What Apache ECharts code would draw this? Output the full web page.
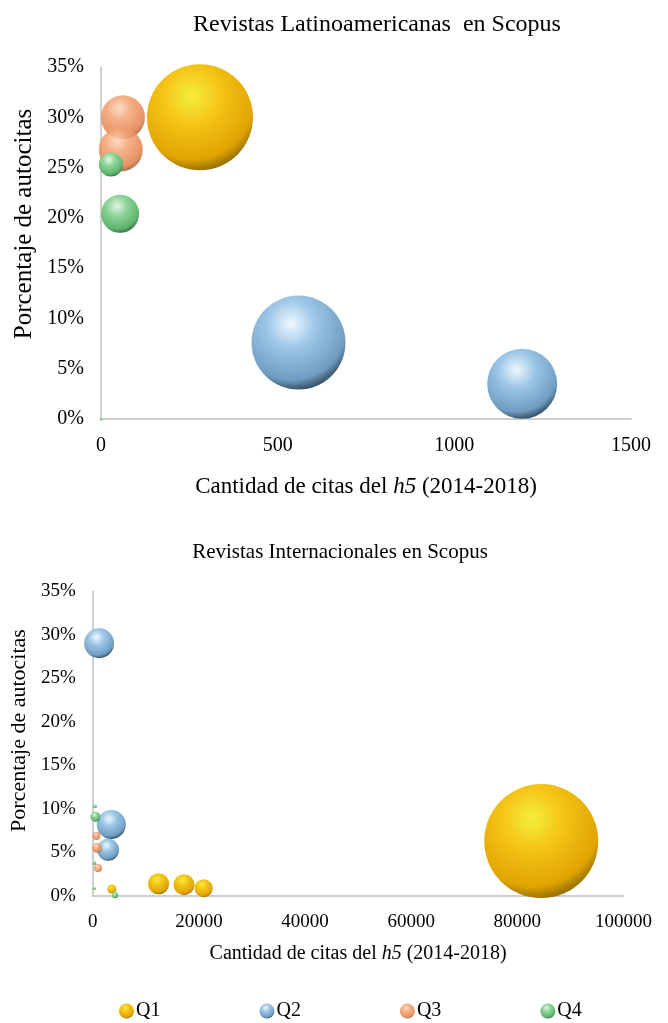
<!DOCTYPE html>
<html>
<head>
<meta charset="utf-8">
<script src="https://cdn.jsdelivr.net/npm/echarts@6/dist/echarts.min.js"></script>
<style>
html,body{margin:0;padding:0;background:#fff;}
#chart{width:668px;height:1023px;}
</style>
</head>
<body>
<div id="chart"></div>
<script>
// ---- Data: [citas h5, % autocitas, tamaño burbuja] ----
const latamQ1 = [[280, 30.0, 100]];
const latamQ2 = [[559, 7.6, 78.6], [1192, 3.5, 43.6]];
const latamQ3 = [[62, 30.0, 17.2], [56, 26.8, 17.2]];
const latamQ4 = [[28, 25.3, 5.1], [54, 20.4, 12.9], [0, 0, 0.08]];

const intQ1 = [[84500, 6.3, 100], [12400, 1.4, 3.4], [17200, 1.3, 3.4], [20900, 0.9, 2.5], [3600, 0.8, 0.62]];
const intQ2 = [[1200, 29.0, 6.9], [3500, 8.2, 6.5], [2900, 5.3, 3.7]];
const intQ3 = [[700, 6.9, 0.5], [800, 5.5, 0.77], [1000, 3.2, 0.5]];
const intQ4 = [[400, 10.3, 0.12], [500, 9.1, 0.77], [300, 3.8, 0.12], [300, 0.9, 0.07], [4200, 0.1, 0.28]];

const categories = ['Q1', 'Q2', 'Q3', 'Q4'];
const titles = ['Revistas Latinoamericanas  en Scopus', 'Revistas Internacionales en Scopus'];
const xName = 'Cantidad de citas del {i|h5} (2014-2018)';
const yName = 'Porcentaje de autocitas';

const FONT = '"Liberation Serif", "Times New Roman", serif';

function sphere(c0, c1, c2, c3) {
  return {
    type: 'radial', x: 0.42, y: 0.3, r: 0.75,
    colorStops: [
      { offset: 0, color: c0 },
      { offset: 0.35, color: c1 },
      { offset: 0.8, color: c2 },
      { offset: 1, color: c3 }
    ]
  };
}
const palette = {
  Q1: sphere('#f3ef3c', '#f5c518', '#e0a400', '#7a5c00'),
  Q2: sphere('#eef8ff', '#9cc6e6', '#6f9cc0', '#1f3444'),
  Q3: sphere('#fbd7bd', '#f3a273', '#e0804a', '#8a4a26'),
  Q4: sphere('#e4f7e4', '#8fd49a', '#5cb36b', '#276232')
};

function series(name, data, idx, k) {
  return {
    name: name, type: 'scatter', xAxisIndex: idx, yAxisIndex: idx,
    data: data,
    symbolSize: d => Math.max(2, Math.sqrt(d[2]) * k),
    itemStyle: { color: palette[name], opacity: name === 'Q3' ? 0.85 : 1 },
    emphasis: { disabled: true },
    clip: false
  };
}

const plain = v => String(v);

function xAxis(grid, max, interval, fs, nfs, gap) {
  return { gridIndex: grid, type: 'value', min: 0, max: max, interval: interval,
    name: xName, nameLocation: 'middle', nameGap: gap,
    nameTextStyle: { fontFamily: FONT, fontSize: nfs, color: '#000',
      rich: { i: { fontFamily: FONT, fontSize: nfs, fontStyle: 'italic', color: '#000' } } },
    axisLine: { show: true, lineStyle: { color: '#bfbfbf', width: 1.5 } },
    axisTick: { show: false }, splitLine: { show: false },
    axisLabel: { fontSize: fs, margin: 17, color: '#000', fontFamily: FONT, formatter: plain } };
}
function yAxis(grid, fs, nfs, gap, shift) {
  return { gridIndex: grid, type: 'value', min: 0, max: 35, interval: 5,
    name: yName, nameLocation: 'middle', nameGap: gap,
    nameTextStyle: { fontFamily: FONT, fontSize: nfs, color: '#000', padding: [0, 0, 0, shift] },
    axisLine: { show: true, lineStyle: { color: '#bfbfbf', width: 1.5 } },
    axisTick: { show: false }, splitLine: { show: false },
    axisLabel: { fontSize: fs, margin: 17, color: '#000', fontFamily: FONT, formatter: v => v + '%' } };
}

const option = {
  animation: false,
  backgroundColor: '#fff',
  textStyle: { fontFamily: FONT, color: '#000' },
  title: [
    { text: titles[0], left: 372, top: 8, textAlign: 'center',
      textStyle: { fontFamily: FONT, fontSize: 24, fontWeight: 'normal', color: '#000' } },
    { text: titles[1], left: 335, top: 537, textAlign: 'center',
      textStyle: { fontFamily: FONT, fontSize: 21, fontWeight: 'normal', color: '#000' } }
  ],
  legend: {
    data: categories.map(n => ({ name: n, itemStyle: { color: palette[n] } })),
    bottom: -3, left: 114, icon: 'circle', itemWidth: 15, itemHeight: 17, itemGap: 99,
    textStyle: { fontFamily: FONT, fontSize: 20, color: '#000', padding: [0, 0, 0, -3] }
  },
  grid: [
    { left: 101, top: 67, width: 530, height: 352 },
    { left: 91.5, top: 591, width: 532, height: 305 }
  ],
  xAxis: [
    xAxis(0, 1500, 500, 20, 23, 56),
    xAxis(1, 100000, 20000, 19, 20, 48)
  ],
  yAxis: [
    yAxis(0, 20, 25, 58, 38),
    yAxis(1, 19, 22, 58, 26)
  ],
  series: [
    series('Q1', latamQ1, 0, 10.6),
    series('Q2', latamQ2, 0, 10.6),
    series('Q3', latamQ3, 0, 10.6),
    series('Q4', latamQ4, 0, 10.6),
    series('Q1', intQ1, 1, 11.4),
    series('Q2', intQ2, 1, 11.4),
    series('Q3', intQ3, 1, 11.4),
    series('Q4', intQ4, 1, 11.4)
  ]
};

const chart = echarts.init(document.getElementById('chart'), null, { renderer: 'canvas' });
chart.setOption(option);
</script>
</body>
</html>
